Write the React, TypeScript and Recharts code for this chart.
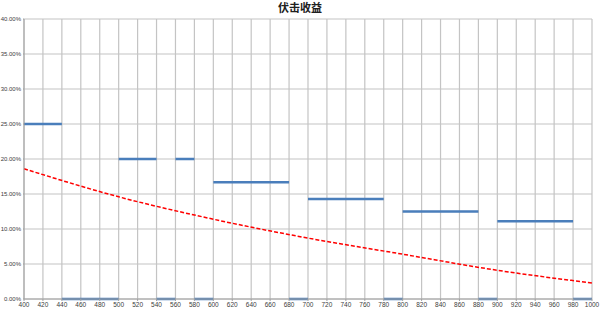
import React from 'react';
import { LineChart, Line, XAxis, YAxis, CartesianGrid } from 'recharts';

const title = '伏击收益';

// blue step segments: [startX, endX, value %]
const segStart = [400, 440, 500, 540, 560, 580, 600, 680, 700, 780, 800, 880, 900, 980];
const segEnd = [440, 500, 540, 560, 580, 600, 680, 700, 780, 800, 880, 900, 980, 1000];
const segValue = [25, 0, 20, 0, 20, 0, 16.67, 0, 14.29, 0, 12.5, 0, 11.11, 0];

// red dashed trend curve
const trendX = [400, 500, 600, 700, 800, 900, 1000];
const trendY = [18.6, 14.6, 11.4, 8.7, 6.4, 4.1, 2.3];

const xTicks = [
  400, 420, 440, 460, 480, 500, 520, 540, 560, 580, 600, 620, 640, 660, 680, 700,
  720, 740, 760, 780, 800, 820, 840, 860, 880, 900, 920, 940, 960, 980, 1000,
];
const yTicks = [0, 5, 10, 15, 20, 25, 30, 35, 40];

const stepData: { x: number; y: number | null }[] = [];
segStart.forEach((s, i) => {
  stepData.push({ x: s, y: segValue[i] });
  stepData.push({ x: segEnd[i], y: segValue[i] });
  stepData.push({ x: segEnd[i], y: null });
});

const trendData = trendX.map((x, i) => ({ x, y: trendY[i] }));

const xTickStyle = { fontSize: 6.5, fill: '#404040', fontFamily: 'Liberation Sans, Arial, sans-serif' };
const yTickStyle = { fontSize: 6, fill: '#404040', fontFamily: 'Liberation Sans, Arial, sans-serif' };

const App: React.FC = () => {
  return (
    <div style={{ position: 'absolute', left: 0, top: 0, width: 600, height: 312, background: '#fff' }}>
      <div
        style={{
          position: 'absolute',
          left: 0,
          top: 1,
          width: 600,
          textAlign: 'center',
          fontSize: 11,
          fontWeight: 'bold',
          fontFamily: '"Noto Sans CJK SC", sans-serif',
          color: '#202020',
          lineHeight: '13px',
        }}
      >
        {title}
      </div>
      <LineChart width={600} height={312} margin={{ top: 19, right: 8, bottom: 0, left: 0 }}>
        <CartesianGrid stroke="#c4c4c4" strokeWidth={1.2} />
        <XAxis
          type="number"
          dataKey="x"
          domain={[400, 1000]}
          ticks={xTicks}
          interval={0}
          height={13}
          tick={xTickStyle}
          tickSize={2}
          tickMargin={1}
          stroke="#a0a0a0"
          allowDuplicatedCategory={false}
        />
        <YAxis
          type="number"
          domain={[0, 40]}
          ticks={yTicks}
          width={24}
          tick={yTickStyle}
          tickSize={1}
          tickMargin={2}
          stroke="#a0a0a0"
          tickFormatter={(v: number) => v.toFixed(2) + '%'}
        />
        <Line
          data={trendData}
          dataKey="y"
          type="monotone"
          stroke="#ff0000"
          strokeWidth={1.5}
          strokeDasharray="4 2"
          dot={false}
          isAnimationActive={false}
        />
        <Line
          data={stepData}
          dataKey="y"
          type="linear"
          stroke="#4a7ebb"
          strokeWidth={2.5}
          dot={false}
          connectNulls={false}
          isAnimationActive={false}
        />
      </LineChart>
    </div>
  );
};

export default App;
